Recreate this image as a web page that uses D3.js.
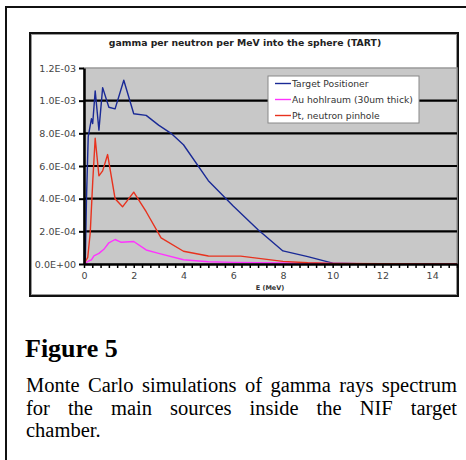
<!DOCTYPE html>
<html>
<head>
<meta charset="utf-8">
<script src="https://cdn.jsdelivr.net/npm/d3@7"></script>
<style>
  body { margin: 0; background: #fff; }
  svg { display: block; }
</style>
</head>
<body>
<svg id="fig" width="466" height="460"></svg>
<script>
// energies (MeV) and gamma per neutron per MeV
const energyTarget = [0.05, 0.1, 0.17, 0.3, 0.35, 0.45, 0.5, 0.6, 0.75, 1.0, 1.25, 1.6, 2.0, 2.5, 3.0, 3.5, 4.0, 5.0, 6.0, 7.0, 8.0, 9.0, 10.0, 11.0, 12.0, 13.0, 14.0, 15.0];
const targetPositioner = [0, 4.0e-4, 7.8e-4, 8.9e-4, 8.6e-4, 1.06e-3, 9.8e-4, 8.2e-4, 1.08e-3, 9.6e-4, 9.5e-4, 1.125e-3, 9.2e-4, 9.1e-4, 8.5e-4, 8.0e-4, 7.3e-4, 5.1e-4, 3.55e-4, 2.1e-4, 8.0e-5, 4.5e-5, 5e-6, 2e-6, 0, 0, 0, 0];

const energyAu = [0, 0.2, 0.3, 0.4, 0.6, 0.8, 1.0, 1.25, 1.5, 2.0, 2.5, 3.0, 4.0, 5.0, 6.0, 8.0, 10.0, 11.3, 12.0, 13.0, 14.0, 15.0];
const auHohlraum = [0, 2e-5, 2.5e-5, 5e-5, 6.5e-5, 9e-5, 1.3e-4, 1.5e-4, 1.33e-4, 1.38e-4, 8.6e-5, 6.5e-5, 2.6e-5, 1.4e-5, 1.0e-5, 6e-6, 4e-6, 2e-6, 0, 0, 0, 0];

const energyPt = [0, 0.15, 0.25, 0.35, 0.45, 0.6, 0.75, 0.95, 1.25, 1.55, 2.0, 2.5, 3.1, 4.0, 5.0, 6.3, 8.0, 9.0, 10.0, 12.0, 15.0];
const ptPinhole = [0, 4e-5, 1.9e-4, 5.0e-4, 7.7e-4, 5.4e-4, 5.7e-4, 6.7e-4, 4.0e-4, 3.5e-4, 4.4e-4, 3.2e-4, 1.6e-4, 7.8e-5, 4.9e-5, 4.8e-5, 1.6e-5, 8e-6, 4e-6, 2e-6, 0];

const seriesNames = ["Target Positioner", "Au hohlraum (30um thick)", "Pt, neutron pinhole"];
const seriesColors = ["#1a2a96", "#ff33ff", "#e8321e"];
const yTicks = [0, 2e-4, 4e-4, 6e-4, 8e-4, 1.0e-3, 1.2e-3];
const yTickLabels = ["0.0E+00", "2.0E-04", "4.0E-04", "6.0E-04", "8.0E-04", "1.0E-03", "1.2E-03"];
const xTicks = [0, 2, 4, 6, 8, 10, 12, 14];

const chartTitle = "gamma per neutron per MeV into the sphere (TART)";
const xTitle = "E (MeV)";
const figLabel = "Figure 5";
const captionLines = [
  "Monte Carlo simulations of gamma rays spectrum",
  "for the main sources inside the NIF target",
  "chamber."
];

const svg = d3.select("#fig");
const sans = "'DejaVu Sans', Verdana, sans-serif";
const serif = "'Liberation Serif', 'Times New Roman', serif";

// outer page frame
svg.append("path")
  .attr("d", "M6,460 V7 H466")
  .attr("fill", "none")
  .attr("stroke", "#111")
  .attr("stroke-width", 2);

// chart box
svg.append("rect")
  .attr("x", 30).attr("y", 33)
  .attr("width", 428).attr("height", 263)
  .attr("fill", "#fff")
  .attr("stroke", "#111")
  .attr("stroke-width", 2);
svg.append("rect")
  .attr("x", 31.5).attr("y", 34.5)
  .attr("width", 425).attr("height", 260)
  .attr("fill", "none")
  .attr("stroke", "#999")
  .attr("stroke-width", 1);

const x = d3.scaleLinear().domain([0, 15]).range([84, 457]);
const y = d3.scaleLinear().domain([0, 1.2e-3]).range([264, 68]);

// plot area
svg.append("rect")
  .attr("x", x(0)).attr("y", y(1.2e-3))
  .attr("width", x(15) - x(0)).attr("height", y(0) - y(1.2e-3))
  .attr("fill", "#c8c8c8")
  .attr("stroke", "#999")
  .attr("stroke-width", 1.5);

// gridlines
svg.append("g")
  .selectAll("line")
  .data(yTicks.filter(d => d > 0 && d < 1.2e-3))
  .join("line")
  .attr("x1", x(0)).attr("x2", x(15))
  .attr("y1", d => y(d)).attr("y2", d => y(d))
  .attr("stroke", "#000")
  .attr("stroke-width", 2.2);

// series
const line = d3.line().x(d => x(d[0])).y(d => y(d[1]));
const series = [
  d3.zip(energyTarget, targetPositioner),
  d3.zip(energyAu, auHohlraum),
  d3.zip(energyPt, ptPinhole)
];
svg.append("g")
  .selectAll("path")
  .data(series)
  .join("path")
  .attr("d", line)
  .attr("fill", "none")
  .attr("stroke", (d, i) => seriesColors[i])
  .attr("stroke-width", 1.4)
  .attr("stroke-linejoin", "round");

// y axis
const yAxis = svg.append("g")
  .attr("transform", `translate(${x(0)},0)`)
  .call(d3.axisLeft(y).tickValues(yTicks).tickSize(5).tickSizeOuter(0)
    .tickFormat((d, i) => yTickLabels[i]));
yAxis.select(".domain").attr("stroke", "#000").attr("stroke-width", 2.5);
yAxis.selectAll(".tick line").attr("stroke", "#000").attr("stroke-width", 2);
yAxis.selectAll("text")
  .attr("x", -8)
  .attr("font-family", sans)
  .attr("font-size", 9.5)
  .attr("fill", "#444");

// x axis: minor ticks every 1/3 MeV, labels every 2 MeV
const minorX = d3.range(0, 46).map(i => i / 3);
const xMinor = svg.append("g")
  .attr("transform", `translate(0,${y(0)})`)
  .call(d3.axisBottom(x).tickValues(minorX).tickSize(4).tickSizeOuter(0).tickFormat(""));
xMinor.select(".domain").attr("stroke", "#000").attr("stroke-width", 2.5);
xMinor.selectAll(".tick line").attr("stroke", "#000").attr("stroke-width", 1.5);

const xLabels = svg.append("g")
  .attr("transform", `translate(0,${y(0)})`)
  .call(d3.axisBottom(x).tickValues(xTicks).tickSize(0).tickFormat(d3.format("d")));
xLabels.select(".domain").remove();
xLabels.selectAll("text")
  .attr("y", 8)
  .attr("font-family", sans)
  .attr("font-size", 9.5)
  .attr("fill", "#444");

// titles
svg.append("text")
  .attr("x", 245).attr("y", 46)
  .attr("text-anchor", "middle")
  .attr("font-family", sans)
  .attr("font-weight", "bold")
  .attr("font-size", 9.3)
  .attr("fill", "#222")
  .text(chartTitle);

svg.append("text")
  .attr("x", 270).attr("y", 290)
  .attr("text-anchor", "middle")
  .attr("font-family", sans)
  .attr("font-weight", "bold")
  .attr("font-size", 6.5)
  .attr("fill", "#333")
  .text(xTitle);

// legend
const legend = svg.append("g").attr("transform", "translate(268,76)");
legend.append("rect")
  .attr("width", 151).attr("height", 47)
  .attr("fill", "#fff")
  .attr("stroke", "#888")
  .attr("stroke-width", 1);
const item = legend.selectAll(".item")
  .data(seriesNames)
  .join("g")
  .attr("class", "item")
  .attr("transform", (d, i) => `translate(0,${7.5 + i * 16})`);
item.append("line")
  .attr("x1", 7).attr("x2", 23)
  .attr("stroke", (d, i) => seriesColors[i])
  .attr("stroke-width", 1.4);
item.append("text")
  .attr("x", 24).attr("dy", "0.35em")
  .attr("font-family", sans)
  .attr("font-size", 9.2)
  .attr("fill", "#333")
  .text(d => d);

// caption below the chart
svg.append("text")
  .attr("x", 25).attr("y", 357)
  .attr("font-family", serif)
  .attr("font-weight", "bold")
  .attr("font-size", 26)
  .attr("fill", "#000")
  .text(figLabel);

const capLeft = 26, capRight = 457, capTop = 392, capStep = 22.5;
captionLines.forEach((txt, li) => {
  const words = txt.split(" ");
  const g = svg.append("g");
  const ws = words.map(w => g.append("text")
    .attr("y", capTop + li * capStep)
    .attr("font-family", serif)
    .attr("font-size", 20.5)
    .attr("fill", "#000")
    .text(w));
  const widths = ws.map(t => t.node().getComputedTextLength());
  const justify = li < captionLines.length - 1 && words.length > 1;
  const gap = justify
    ? (capRight - capLeft - d3.sum(widths)) / (words.length - 1)
    : 5;
  let cx = capLeft;
  ws.forEach((t, i) => {
    t.attr("x", cx);
    cx += widths[i] + gap;
  });
});
</script>
</body>
</html>
